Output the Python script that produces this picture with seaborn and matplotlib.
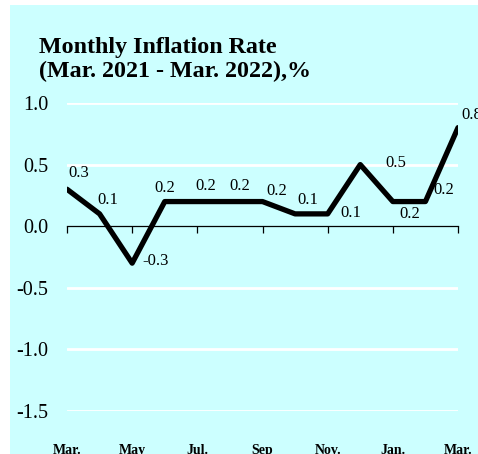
import numpy as np
import pandas as pd
import seaborn as sns
import matplotlib.pyplot as plt
from matplotlib.patches import Rectangle

# monthly inflation, Mar. 2021 .. Mar. 2022
rate = [0.3, 0.1, -0.3, 0.2, 0.2, 0.2, 0.2, 0.1, 0.1, 0.5, 0.2, 0.2, 0.8]
tick_labels = ['Mar.', 'May', 'Jul.', 'Sep', 'Nov.', 'Jan.', 'Mar.']
y_ticks = [1.0, 0.5, 0.0, -0.5, -1.0, -1.5]

df = pd.DataFrame({'month': np.arange(len(rate)), 'rate': rate})

# label offsets in pixels (dx, dy), like the excel chart
offs = [(12, 16), (8, 14), (23, 2), (0, 14), (8, 16), (10, 16), (14, 11),
        (13, 14), (23, 1), (36, 2), (17, -12), (18, 12), (14, 13)]

sns.set_style("white")
plt.rcParams['font.family'] = ['Liberation Serif', 'DejaVu Serif']
plt.rcParams['text.color'] = 'black'
plt.rcParams['xtick.color'] = 'black'
plt.rcParams['ytick.color'] = 'black'

bg = '#CCFFFF'
fig = plt.figure(figsize=(4.78, 4.54), dpi=100)
fig.patches.append(Rectangle((10 / 478, 0), 1, 1 - 5 / 454, transform=fig.transFigure,
                             facecolor=bg, edgecolor='none', zorder=-10))
ax = fig.add_axes([67 / 478, (454 - 411) / 454, (458 - 67) / 478, (411 - 103) / 454])
ax.set_facecolor('none')

sns.lineplot(data=df, x='month', y='rate', color='black', linewidth=3.8, ax=ax)

ax.set_xlim(0, len(rate) - 1)
ax.set_ylim(-1.5, 1.0)
ax.set_yticks(y_ticks)
ax.set_yticklabels([f"{v:.1f}" for v in y_ticks], fontsize=14.5)
for v in y_ticks:
    if v != 0:
        ax.axhline(v, color='white', linewidth=2, zorder=0)

for s in ['top', 'right', 'left']:
    ax.spines[s].set_visible(False)
ax.spines['bottom'].set_position(('data', 0))
ax.spines['bottom'].set_color('black')
ax.spines['bottom'].set_linewidth(0.9)
ax.set_xticks(np.arange(0, len(rate), 2))
ax.set_xticklabels(tick_labels, fontsize=10, fontweight='bold')
ax.tick_params(axis='x', direction='out', length=5, width=0.9, pad=152, bottom=True,
               colors='black')
ax.tick_params(axis='y', length=0, pad=13.5, colors='black')
ax.set_xlabel('')
ax.set_ylabel('')

for i, v in enumerate(rate):
    dx, dy = offs[i]
    ax.annotate(f"{v:.1f}", (i, v), xytext=(dx, dy), textcoords='offset pixels',
                ha='center', va='center', fontsize=12, color='black',
                annotation_clip=False)

fig.text(39 / 478, 1 - 53 / 454, 'Monthly Inflation Rate', color='black',
         fontsize=17.3, fontweight='bold', ha='left', va='baseline')
fig.text(39 / 478, 1 - 77 / 454, '(Mar. 2021 - Mar. 2022),%', color='black',
         fontsize=17.3, fontweight='bold', ha='left', va='baseline')

plt.savefig('out.png', dpi=100)
